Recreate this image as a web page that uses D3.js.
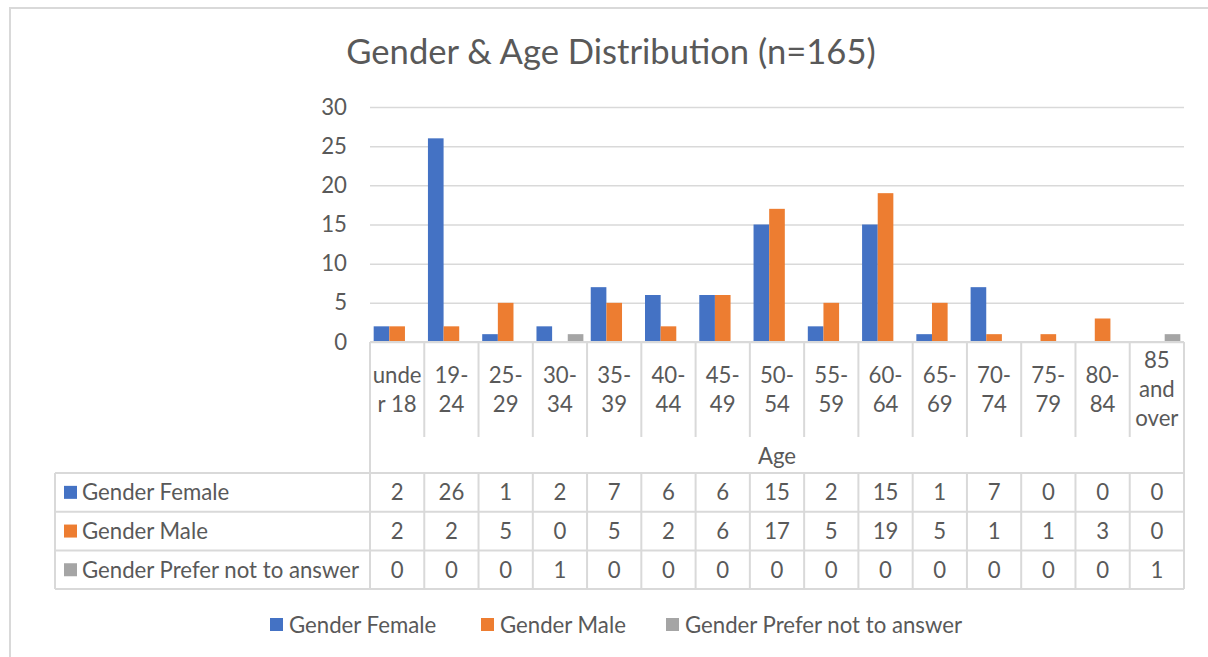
<!DOCTYPE html>
<html><head><meta charset="utf-8">
<script src="https://cdn.jsdelivr.net/npm/d3@7"></script>
<style>body{margin:0;background:#fff;} text{font-family:Lato,"Open Sans",sans-serif;fill:#595959;}</style>
</head><body>
<svg id="c" width="1208" height="657"></svg>
<script>
const categories = ["under 18","19-24","25-29","30-34","35-39","40-44","45-49","50-54","55-59","60-64","65-69","70-74","75-79","80-84","85 and over"];
const categoryLines = [["unde","r 18"],["19-","24"],["25-","29"],["30-","34"],["35-","39"],["40-","44"],["45-","49"],["50-","54"],["55-","59"],["60-","64"],["65-","69"],["70-","74"],["75-","79"],["80-","84"],["85","and","over"]];
const seriesNames = ["Gender Female","Gender Male","Gender Prefer not to answer"];
const female = [2,26,1,2,7,6,6,15,2,15,1,7,0,0,0];
const male = [2,2,5,0,5,2,6,17,5,19,5,1,1,3,0];
const preferNot = [0,0,0,1,0,0,0,0,0,0,0,0,0,0,1];
const yTicks = [0,5,10,15,20,25,30];
const colors = ["#4472C4","#ED7D31","#A5A5A5"];
const title = "Gender & Age Distribution (n=165)";
const axisTitle = "Age";

const series = [female, male, preferNot];
const svg = d3.select("#c");
const grid = "#d9d9d9";
const FS = "22.2px";

// outer border
svg.append("path").attr("d","M10,657 V8 H1208").attr("fill","none").attr("stroke",grid).attr("stroke-width",2);

const L = 370, R = 1184, T = 107, B = 342;
const x = d3.scaleBand().domain(categories).range([L,R]).paddingInner(0).paddingOuter(0);
const y = d3.scaleLinear().domain([0,30]).range([B,T]);
const xs = d3.scaleBand().domain(d3.range(3)).range([0,x.bandwidth()]).paddingInner(0).paddingOuter(0.235);

svg.append("text").attr("x",611).attr("y",64).attr("text-anchor","middle").style("font-size","34.6px").text(title);

// gridlines
const yAxis = d3.axisLeft(y).tickValues(yTicks).tickSize(-(R-L)).tickPadding(14);
const ga = svg.append("g").attr("transform",`translate(${L},0)`).call(yAxis);
ga.select(".domain").remove();
ga.selectAll(".tick line").attr("stroke",grid).attr("stroke-width",1.5);
ga.selectAll(".tick text").style("font-size",FS).attr("fill","#595959").style("font-family","Lato,sans-serif").attr("dx",-9);

// bars
series.forEach((s,i)=>{
  svg.append("g").selectAll("rect").data(s).join("rect")
    .attr("x",(d,j)=>x(categories[j])+xs(i))
    .attr("width",xs.bandwidth())
    .attr("y",d=>y(d))
    .attr("height",d=>B-y(d))
    .attr("fill",colors[i]);
});

// data table
const tbl = svg.append("g");
const catBottom = 437, ageBottom = 473;
const rowH = 38.7;
const rowsTop = ageBottom;
const tableLeft = 55;
const line = (x1,y1,x2,y2)=>tbl.append("line").attr("x1",x1).attr("y1",y1).attr("x2",x2).attr("y2",y2).attr("stroke",grid).attr("stroke-width",2);
line(L,B,R,B);
categories.forEach((c,j)=>{ line(x(c),B,x(c),catBottom); });
line(R,B,R,catBottom);
line(L,catBottom,L,ageBottom);
line(R,catBottom,R,ageBottom);
categories.forEach((c,j)=>{
  const lines = categoryLines[j];
  const cx = x(c)+x.bandwidth()/2, cy=(B+catBottom)/2;
  lines.forEach((t,k)=>{
    tbl.append("text").attr("x",cx).attr("y",cy+(k-(lines.length-1)/2)*29).attr("dy","0.36em")
      .attr("text-anchor","middle").style("font-size",FS).text(t);
  });
});
tbl.append("text").attr("x",(L+R)/2).attr("y",(catBottom+ageBottom)/2+1).attr("dy","0.36em").attr("text-anchor","middle").style("font-size",FS).text(axisTitle);
for(let r=0;r<=3;r++) line(r===0?L:tableLeft, rowsTop+r*rowH, R, rowsTop+r*rowH);
line(L,rowsTop,L,rowsTop+3*rowH);
line(tableLeft,rowsTop,L,rowsTop);
line(tableLeft,rowsTop,tableLeft,rowsTop+3*rowH);
categories.forEach(c=>line(x(c)+x.bandwidth(),rowsTop,x(c)+x.bandwidth(),rowsTop+3*rowH));
series.forEach((s,i)=>{
  const cy = rowsTop+i*rowH+rowH/2;
  tbl.append("rect").attr("x",64).attr("y",cy-6.5).attr("width",13).attr("height",13).attr("fill",colors[i]);
  tbl.append("text").attr("x",82).attr("y",cy).attr("dy","0.36em").style("font-size",FS).text(seriesNames[i]);
  s.forEach((v,j)=>{
    tbl.append("text").attr("x",x(categories[j])+x.bandwidth()/2).attr("y",cy).attr("dy","0.36em")
      .attr("text-anchor","middle").style("font-size",FS).text(v);
  });
});

// legend
const legX = [270,481,666];
const leg = svg.append("g");
seriesNames.forEach((n,i)=>{
  leg.append("rect").attr("x",legX[i]).attr("y",618).attr("width",13).attr("height",13).attr("fill",colors[i]);
  leg.append("text").attr("x",legX[i]+19).attr("y",625).attr("dy","0.36em").style("font-size",FS).text(n);
});
</script>
</body></html>
